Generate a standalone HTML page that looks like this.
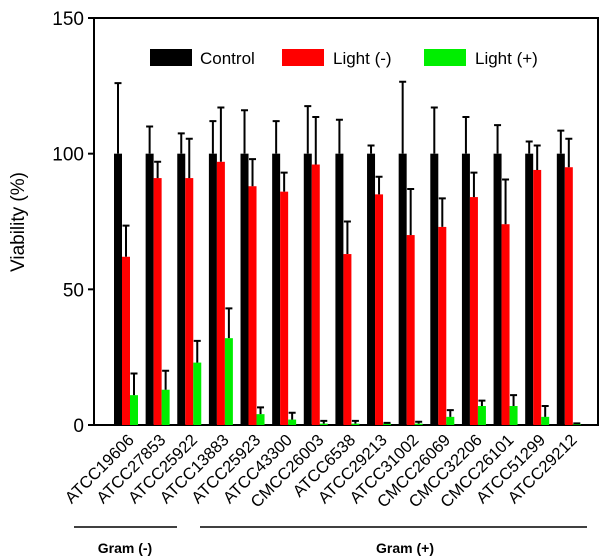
<!DOCTYPE html>
<html><head><meta charset="utf-8"><style>
body{margin:0;background:#fff;}
svg{display:block;font-family:"Liberation Sans",Arial,sans-serif;}
</style></head><body>
<svg id="chart" width="600" height="559"></svg>
<script>
const categories=["ATCC19606","ATCC27853","ATCC25922","ATCC13883","ATCC25923","ATCC43300","CMCC26003","ATCC6538","ATCC29213","ATCC31002","CMCC26069","CMCC32206","CMCC26101","ATCC51299","ATCC29212"];
const controlVals=[100,100,100,100,100,100,100,100,100,100,100,100,100,100,100];
const controlErrTop=[126,110,107.5,112,116,112,117.5,112.5,103,126.5,117,113.5,110.5,104.5,108.5];
const redVals=[62,91,91,97,88,86,96,63,85,70,73,84,74,94,95];
const redErrTop=[73.5,97,105.5,117,98,93,113.5,75,91.5,87,83.5,93,90.5,103,105.5];
const greenVals=[11,13,23,32,4,2,0.5,0.5,0.5,0.5,3,7,7,3,0.3];
const greenErrTop=[19,20,31,43,6.5,4.5,1.5,1.5,0.8,1.2,5.5,9,11,7,0.6];
const yTicks=[0,50,100,150];
const NS="http://www.w3.org/2000/svg";
const svg=document.getElementById('chart');
const X0=94,X1=598,Y0=425,Y150=18;
const y=v=>Y0-(Y0-Y150)*v/150;
const gx=i=>114+i*31.63;
const BW=8;
function mk(tag,attrs,parent){const e=document.createElementNS(NS,tag);for(const k in attrs)e.setAttribute(k,attrs[k]);(parent||svg).appendChild(e);return e;}
const frame=mk('rect',{x:X0,y:Y150,width:X1-X0,height:Y0-Y150,fill:'none',stroke:'#000','stroke-width':2});


yTicks.forEach(t=>{
  const l=mk('line',{x1:X0-6,x2:X0,y1:y(t),y2:y(t),stroke:'#000','stroke-width':2});
  
  
  const tx=mk('text',{x:X0-10,y:y(t)+7,'text-anchor':'end','font-size':19});
  tx.textContent=t;
  
  
});
const yt=mk('text',{x:0,y:0,'text-anchor':'middle','font-size':19,transform:'translate(24,222) rotate(-90)'});
yt.textContent='Viability (%)';


function bar(x,v,top,color,name){
  const r=mk('rect',{x:x,y:y(v),width:BW,height:Y0-y(v),fill:color});
  
  
  const cx=x+BW/2;
  const e=mk('path',{d:`M${cx},${y(v)}V${y(top)}M${cx-3.5},${y(top)}H${cx+3.5}`,stroke:'#000','stroke-width':2,fill:'none'});
  
  
}
categories.forEach((c,i)=>{
  const x=gx(i);
  bar(x,controlVals[i],controlErrTop[i],'#000','bar-control');
  bar(x+BW,redVals[i],redErrTop[i],'#ff0000','bar-light-minus');
  bar(x+2*BW,greenVals[i],greenErrTop[i],'#00ee00','bar-light-plus');
  const t=mk('text',{x:0,y:0,'text-anchor':'end','font-size':16.5,transform:`translate(${x+21},${Y0+16}) rotate(-45)`});
  t.textContent=c;
  
  
});
[['Control','#000',150,200],['Light (-)','#ff0000',282,333],['Light (+)','#00ee00',424,475]].forEach(l=>{
  const g=mk('g',{});
  
  
  mk('rect',{x:l[2],y:49,width:42,height:17,fill:l[1]},g);
  const t=mk('text',{x:l[3],y:64,'font-size':17},g);
  t.textContent=l[0];
});
[[74,177,125,'Gram (-)'],[200,587,405,'Gram (+)']].forEach(g=>{
  const ln=mk('line',{x1:g[0],x2:g[1],y1:527,y2:527,stroke:'#000','stroke-width':1.5});
  
  
  const t=mk('text',{x:g[2],y:553,'text-anchor':'middle','font-size':14,'font-weight':'bold'});
  t.textContent=g[3];
  
  
});
</script>
</body></html>
